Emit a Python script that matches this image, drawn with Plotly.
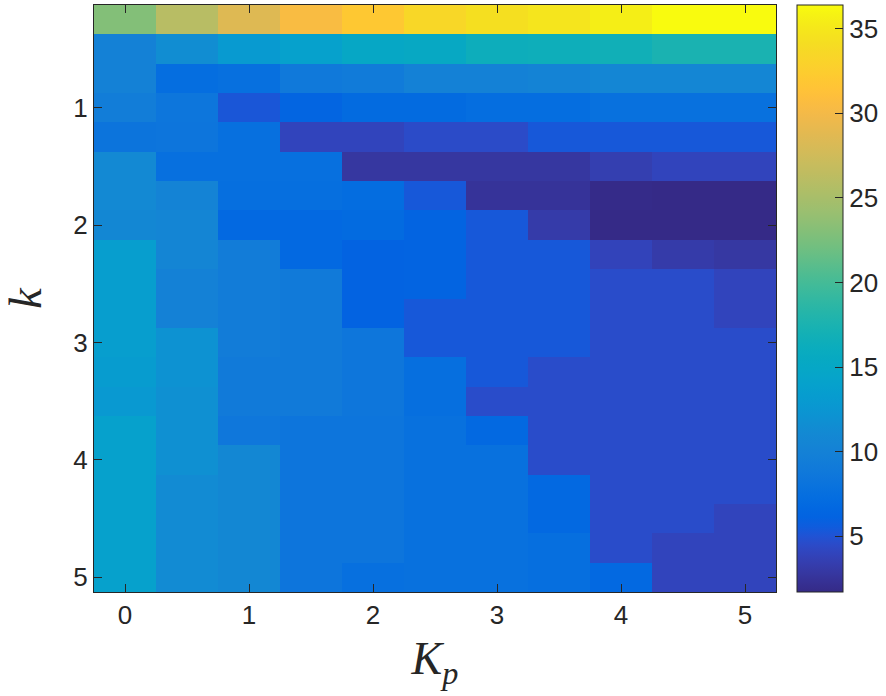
import plotly.graph_objects as go

# Data
Kp = [0, 0.5, 1, 1.5, 2, 2.5, 3, 3.5, 4, 4.5, 5]
k_vals = [0.25, 0.5, 0.75, 1, 1.25, 1.5, 1.75, 2, 2.25, 2.5,
          2.75, 3, 3.25, 3.5, 3.75, 4, 4.25, 4.5, 4.75, 5]

r01 = [23, 26, 28.5, 30.5, 32, 33.5, 34.3, 34.8, 35.5, 36.4, 36.4]
r02 = [10, 11.5, 13, 14, 15, 15.3, 16.3, 16.5, 16.8, 17.5, 17.5]
r03 = [10, 7.3, 7.6, 8.8, 9.2, 10, 10, 10.2, 10.6, 10.6, 10.6]
r04 = [9.4, 8.4, 5.2, 6.3, 7, 7, 7.3, 7.3, 7.7, 7.8, 7.8]
r05 = [8.2, 8.3, 7.6, 4, 4, 4.5, 4.5, 5.3, 5.3, 5.3, 5.3]
r06 = [11, 7.6, 7.6, 7.6, 2.8, 2.8, 2.8, 2.8, 3.5, 4, 4]
r07 = [11, 10.2, 7.5, 7.5, 7.2, 5.3, 2.5, 2.5, 1.8, 1.7, 1.7]
r08 = [10.8, 10.5, 6.8, 6.8, 7, 6.2, 5.3, 3.2, 1.7, 1.7, 1.7]
r09 = [13.5, 10.5, 9.3, 6.8, 6.1, 6.2, 5.3, 5.3, 3.9, 3.2, 2.9]
r10 = [13.5, 10, 9.3, 9, 6.1, 6.2, 5.3, 5.3, 4.6, 4.6, 4.0]
r11 = [13.5, 10, 9.3, 9, 6.1, 5.3, 5.3, 5.3, 4.6, 4.6, 4.0]
r12 = [13.5, 12, 9.3, 9, 8.5, 5.3, 5.3, 5.3, 4.6, 4.6, 4.6]
r13 = [13.2, 12, 9, 9, 8.5, 7.5, 5.3, 4.6, 4.6, 4.6, 4.6]
r14 = [12.8, 11.8, 9, 9, 8.5, 7.5, 4.6, 4.6, 4.6, 4.6, 4.6]
r15 = [14, 11.8, 8.6, 8.3, 8.3, 7.8, 6.8, 4.6, 4.6, 4.6, 4.6]
r16 = [14, 11.8, 10.8, 8.3, 8.3, 7.8, 7.8, 4.6, 4.6, 4.6, 4.6]
r17 = [14, 11.3, 10.8, 8.3, 8.3, 7.8, 7.8, 6.8, 4.6, 4.6, 4.6]
r18 = [14, 11.3, 10.8, 8.3, 8.3, 7.8, 7.8, 6.8, 4.6, 4.6, 4.0]
r19 = [14, 11.3, 10.8, 8.3, 8.3, 7.8, 7.8, 7.5, 4.6, 4.0, 4.0]
r20 = [14, 11.3, 10.8, 8.3, 7.6, 7.8, 7.8, 7.5, 6.8, 4.0, 4.0]

z = [r01, r02, r03, r04, r05, r06, r07, r08, r09, r10,
     r11, r12, r13, r14, r15, r16, r17, r18, r19, r20]

cbar_ticks = [5, 10, 15, 20, 25, 30, 35]
x_ticks = [0, 1, 2, 3, 4, 5]
y_ticks = [1, 2, 3, 4, 5]

# parula colormap
parula = [
    (0.2081, 0.1663, 0.5292), (0.2116, 0.1898, 0.5777), (0.2123, 0.2138, 0.6270),
    (0.2081, 0.2386, 0.6771), (0.1959, 0.2645, 0.7279), (0.1707, 0.2919, 0.7792),
    (0.1253, 0.3242, 0.8303), (0.0591, 0.3598, 0.8683), (0.0117, 0.3875, 0.8820),
    (0.0060, 0.4086, 0.8828), (0.0165, 0.4266, 0.8786), (0.0329, 0.4430, 0.8720),
    (0.0498, 0.4586, 0.8641), (0.0629, 0.4737, 0.8554), (0.0723, 0.4887, 0.8467),
    (0.0779, 0.5040, 0.8384), (0.0793, 0.5200, 0.8312), (0.0749, 0.5375, 0.8263),
    (0.0641, 0.5570, 0.8240), (0.0488, 0.5772, 0.8228), (0.0343, 0.5966, 0.8199),
    (0.0265, 0.6137, 0.8135), (0.0239, 0.6287, 0.8038), (0.0231, 0.6418, 0.7913),
    (0.0228, 0.6535, 0.7768), (0.0267, 0.6642, 0.7607), (0.0384, 0.6743, 0.7436),
    (0.0590, 0.6838, 0.7254), (0.0843, 0.6928, 0.7062), (0.1133, 0.7015, 0.6859),
    (0.1453, 0.7098, 0.6646), (0.1801, 0.7177, 0.6424), (0.2178, 0.7250, 0.6193),
    (0.2586, 0.7317, 0.5954), (0.3022, 0.7376, 0.5712), (0.3482, 0.7424, 0.5473),
    (0.3953, 0.7459, 0.5244), (0.4420, 0.7481, 0.5033), (0.4871, 0.7491, 0.4840),
    (0.5300, 0.7491, 0.4661), (0.5709, 0.7485, 0.4494), (0.6099, 0.7473, 0.4337),
    (0.6473, 0.7456, 0.4188), (0.6834, 0.7435, 0.4044), (0.7184, 0.7411, 0.3905),
    (0.7525, 0.7384, 0.3768), (0.7858, 0.7356, 0.3633), (0.8185, 0.7327, 0.3498),
    (0.8507, 0.7299, 0.3360), (0.8824, 0.7274, 0.3217), (0.9139, 0.7258, 0.3063),
    (0.9450, 0.7261, 0.2886), (0.9739, 0.7314, 0.2666), (0.9938, 0.7455, 0.2403),
    (0.9990, 0.7653, 0.2164), (0.9955, 0.7861, 0.1967), (0.9880, 0.8066, 0.1794),
    (0.9789, 0.8271, 0.1633), (0.9697, 0.8481, 0.1475), (0.9626, 0.8705, 0.1309),
    (0.9589, 0.8949, 0.1132), (0.9598, 0.9218, 0.0948), (0.9661, 0.9514, 0.0755),
    (0.9763, 0.9831, 0.0538),
]
n = len(parula)
colorscale = [[i / (n - 1), "rgb(%d,%d,%d)" % (round(r * 255), round(g * 255), round(b * 255))]
              for i, (r, g, b) in enumerate(parula)]

axis_color = "#262626"
tick_font = dict(family="Liberation Sans, Arial, sans-serif", size=26, color="#262626")
label_font = dict(family="Liberation Serif, Times New Roman, serif", size=46, color="#262626")

fig = go.Figure(go.Heatmap(
    x=Kp, y=k_vals, z=z,
    colorscale=colorscale, zmin=1.7, zmax=36.4,
    colorbar=dict(
        x=797 / 886, xanchor="left", xref="container",
        y=0, yanchor="bottom", len=1, lenmode="fraction",
        thickness=46, thicknessmode="pixels",
        outlinecolor=axis_color, outlinewidth=1,
        tickvals=cbar_ticks, ticks="inside", ticklen=8, tickcolor=axis_color,
        tickfont=tick_font, ypad=0, xpad=0,
    ),
    showscale=True,
))

fig.update_layout(
    width=886, height=696,
    margin=dict(l=94, r=110, t=5, b=104),
    paper_bgcolor="white", plot_bgcolor="white",
    xaxis=dict(
        range=[-0.25, 5.25], tickvals=x_ticks, ticks="inside", ticklen=8,
        tickcolor=axis_color, showline=True, linecolor=axis_color, linewidth=1,
        mirror="ticks", showgrid=False, zeroline=False, tickfont=tick_font,
        automargin=False,
        title=dict(text="<i>K</i><sub><i>p</i></sub>", font=label_font, standoff=12),
    ),
    yaxis=dict(
        range=[5.125, 0.125], tickvals=y_ticks, ticks="inside", ticklen=8,
        tickcolor=axis_color, showline=True, linecolor=axis_color, linewidth=1,
        mirror="ticks", showgrid=False, zeroline=False, tickfont=tick_font,
        automargin=False,
        title=dict(text="<i>k</i>", font=label_font, standoff=22),
    ),
)

fig.write_html(
    "out.html",
    config={"displayModeBar": False},
    post_script="document.body.style.margin='0px';document.body.style.overflow='hidden';",
)
